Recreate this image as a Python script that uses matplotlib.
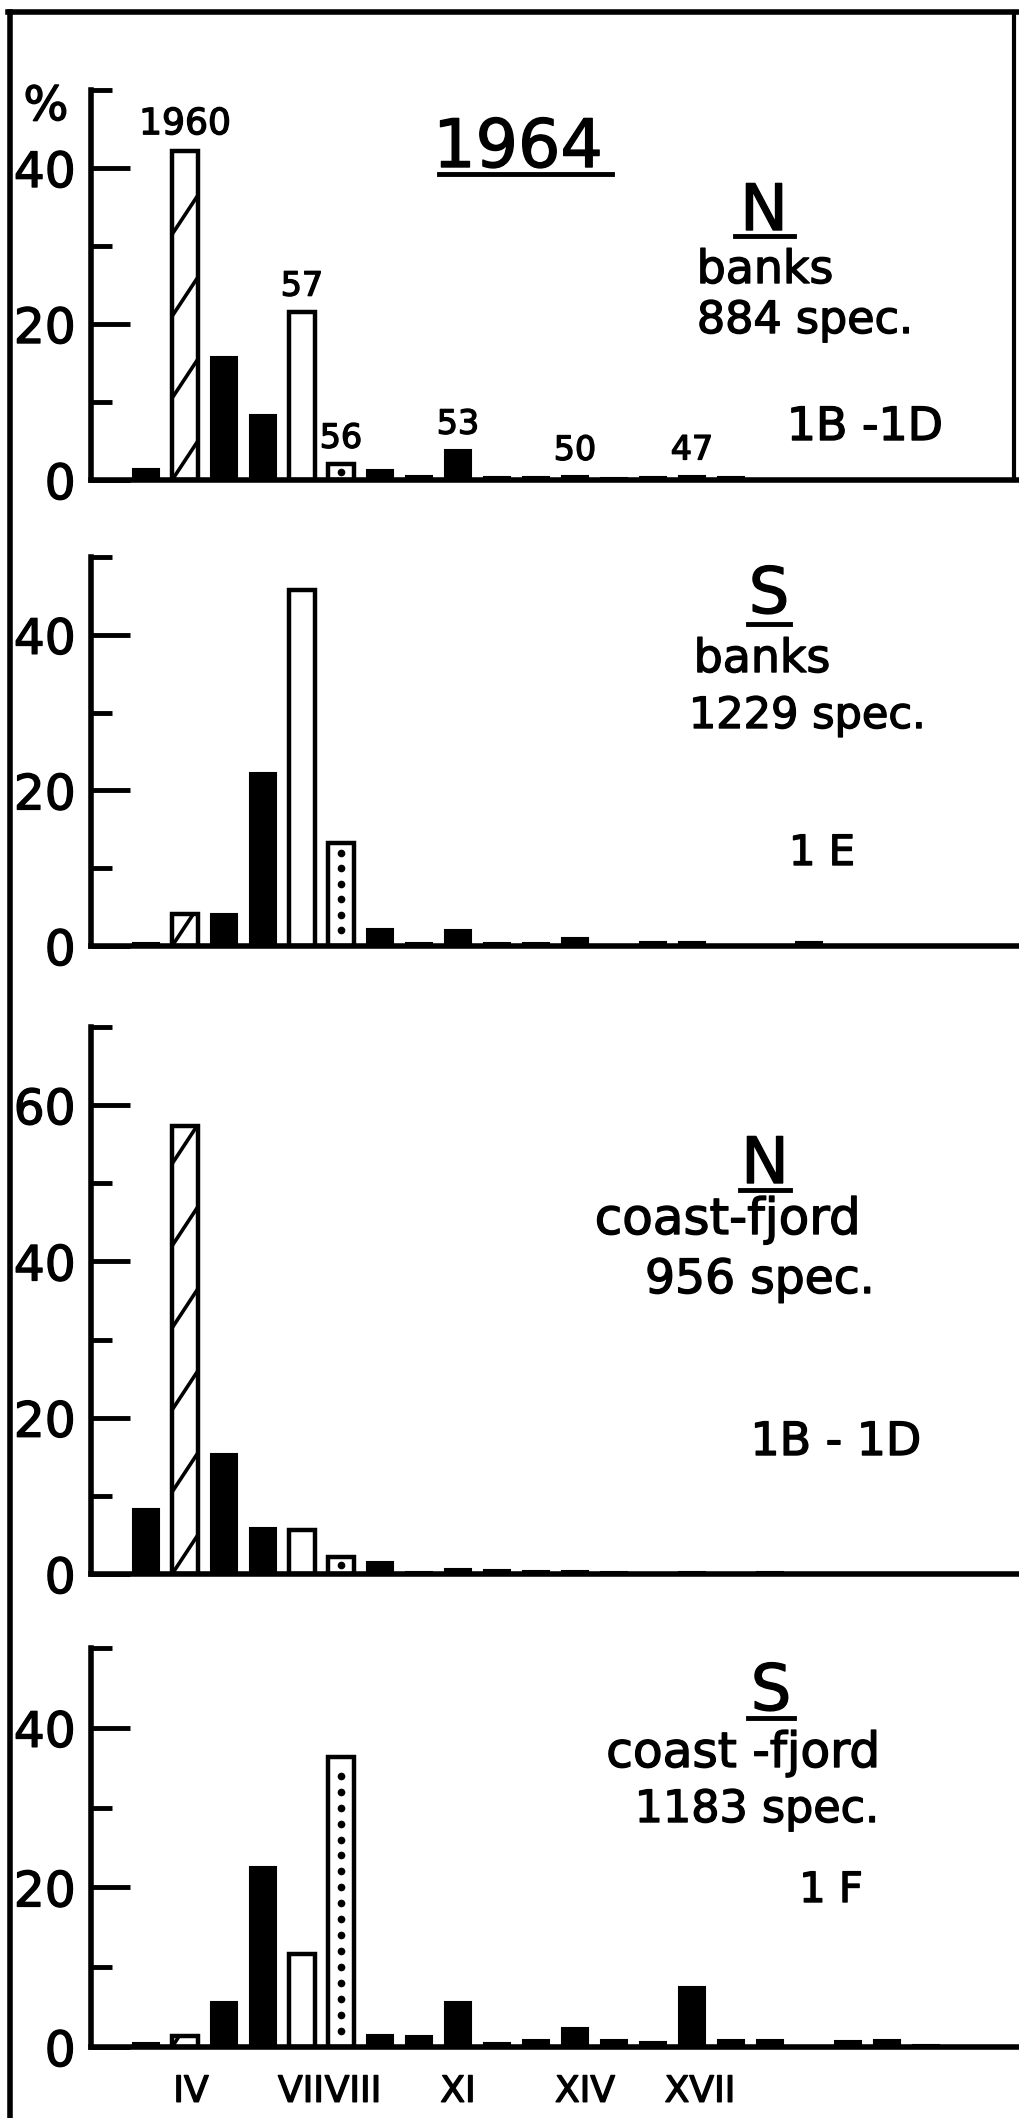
import numpy as np
import matplotlib
matplotlib.use('Agg')
import matplotlib.pyplot as plt
import matplotlib.patheffects as pe
from matplotlib.lines import Line2D
from matplotlib.transforms import ScaledTranslation

W, H = 1020, 2118

# age groups (III = year class 1961 in 1964)
ages = ['III', 'IV', 'V', 'VI', 'VII', 'VIII', 'IX', 'X', 'XI', 'XII', 'XIII',
        'XIV', 'XV', 'XVI', 'XVII', 'XVIII', 'XIX', 'XX', 'XXI', 'XXII', 'XXIII']
# bar kind per age group: year classes 1960 hatched, 1957 open, 1956 dotted
kinds = ['solid', 'hatch', 'solid', 'solid', 'open', 'dots'] + ['solid'] * 15

# percent values
n_banks = [1.4, 42.2, 15.8, 8.3, 21.5, 2.0, 1.3, 0.5, 3.8, 0.4, 0.4,
           0.45, 0.2, 0.4, 0.5, 0.4, 0, 0, 0, 0, 0]
s_banks = [0.4, 4.1, 4.1, 22.2, 45.7, 13.2, 2.2, 0.4, 2.1, 0.35, 0.4,
           1.0, 0, 0.45, 0.45, 0, 0, 0.45, 0, 0, 0]
n_coast = [8.3, 57.3, 15.3, 5.9, 5.6, 2.2, 1.5, 0.3, 0.6, 0.5, 0.4,
           0.4, 0.3, 0, 0.3, 0, 0.3, 0, 0, 0, 0]
s_coast = [0.5, 1.4, 5.7, 22.5, 11.6, 36.4, 1.5, 1.4, 5.7, 0.55, 0.85,
           2.4, 0.85, 0.65, 7.5, 0.85, 0.85, 0, 0.75, 0.85, 0.3]

# year class labels written above bars in the top panel
yc_labels = {'IV': '1960', 'VII': '57', 'VIII': '56', 'XI': '53', 'XIV': '50', 'XVII': '47'}
xlabels = ['IV', 'VII', 'VIII', 'XI', 'XIV', 'XVII']

fig = plt.figure(figsize=(W / 100, H / 100), dpi=100)
plt.rcParams['font.family'] = ['DejaVu Sans']

x = np.arange(len(ages))
thick = [pe.withStroke(linewidth=1.0, foreground='black')]


def fx(px):
    return px / W


def fy(py):
    return 1 - py / H


def panel(vals, ymax, top, bottom, show_x=False):
    ax = fig.add_axes([fx(91), fy(bottom), 1 - fx(91), (bottom - top) / H])
    faces = ['black' if k == 'solid' else 'white' for k in kinds]
    lws = [1.5 if k == 'solid' else 3.2 for k in kinds]
    bars = ax.bar(x, vals, width=0.66, color=faces, edgecolor='black', linewidth=lws, zorder=2)
    for i, k in enumerate(kinds):
        b = bars[i]
        h = b.get_height()
        if h <= 0:
            continue
        if k == 'hatch':
            x0, w = b.get_x(), b.get_width()
            for y0 in np.arange(0, h, 10.5):
                ln = Line2D([x0, x0 + w], [y0, y0 + 5.0], color='black', lw=2.6, zorder=3)
                ax.add_line(ln)
                ln.set_clip_path(b)
        elif k == 'dots':
            ys = np.arange(2.0, h - 0.5, 2.0) if h > 3 else np.array([h / 2])
            ax.plot(np.full(len(ys), x[i]), ys, 'o', ms=4.5, color='black', zorder=3)
    ax.set_xlim(-1.41, 22.41)
    ax.set_ylim(0, ymax)
    for s in ['top', 'right']:
        ax.spines[s].set_visible(False)
    for s in ['left', 'bottom']:
        ax.spines[s].set_linewidth(4)
        ax.spines[s].set_zorder(4)
    ax.set_yticks(np.arange(0, ymax + 1, 20))
    ax.set_yticks(np.arange(10, ymax + 1, 20), minor=True)
    ax.tick_params(axis='y', which='major', direction='in', length=28, width=3.5,
                   labelsize=35, pad=11)
    ax.tick_params(axis='y', which='minor', direction='in', length=15, width=3.5)
    for lab in ax.get_yticklabels():
        lab.set_path_effects(thick)
    ax.patch.set_alpha(0)
    if show_x:
        ax.set_xticks([ages.index(a) for a in xlabels])
        ax.set_xticklabels(xlabels)
        ax.tick_params(axis='x', length=0, labelsize=26, pad=20)
        shifts = {'IV': 6, 'VII': -1, 'VIII': 12, 'XI': 0, 'XIV': 10, 'XVII': 8}
        for lab in ax.get_xticklabels():
            dx = shifts[lab.get_text()]
            lab.set_transform(lab.get_transform() + ScaledTranslation(dx / 100, 0, fig.dpi_scale_trans))
            lab.set_path_effects(thick)
    else:
        ax.set_xticks([])
    return ax, bars


def label(px, py, s, size):
    fig.text(fx(px), fy(py), s, ha='center', va='baseline', fontsize=size, path_effects=thick)


def underline(x0, x1, py):
    fig.add_artist(Line2D([fx(x0), fx(x1)], [fy(py), fy(py)], color='black', lw=3.5))


# panel 1: N banks
ax1, bars1 = panel(n_banks, 50, 90, 480)
for a, s in yc_labels.items():
    i = ages.index(a)
    ax1.annotate(s, (x[i], n_banks[i]), xytext=(0, 12), textcoords='offset points',
                 ha='center', va='baseline', fontsize=26 if s == '1960' else 24,
                 path_effects=thick)
label(46, 120, '%', 34)
label(518, 167, '1964', 48)
underline(439, 612, 174)
label(764, 230, 'N', 46)
underline(735, 794, 236)
label(765, 283, 'banks', 33)
label(805, 333, '884 spec.', 32)
label(865, 440, '1B -1D', 33)

# panel 2: S banks
panel(s_banks, 50, 557, 946)
label(769, 613, 'S', 46)
underline(748, 790, 624)
label(762, 672, 'banks', 33)
label(807, 728, '1229 spec.', 31)
label(822, 865, '1 E', 30)

# panel 3: N coast-fjord
panel(n_coast, 70, 1027, 1574)
label(765, 1183, 'N', 46)
underline(740, 790, 1190)
label(728, 1234, 'coast-fjord', 36)
label(760, 1293, '956 spec.', 34)
label(836, 1455, '1B - 1D', 33)

# panel 4: S coast-fjord
panel(s_coast, 50, 1648, 2047, show_x=True)
label(771, 1710, 'S', 46)
underline(748, 794, 1718)
label(743, 1767, 'coast -fjord', 35)
label(757, 1822, '1183 spec.', 32)
label(831, 1902, '1 F', 30)

# outer frame of the printed figure
fig.add_artist(Line2D([fx(8), fx(1020)], [fy(12), fy(12)], color='black', lw=4))
fig.add_artist(Line2D([fx(10), fx(10)], [fy(12), fy(2118)], color='black', lw=4))
fig.add_artist(Line2D([fx(1014), fx(1014)], [fy(12), fy(480)], color='black', lw=3))

fig.savefig('out.png', dpi=100, facecolor='white')
